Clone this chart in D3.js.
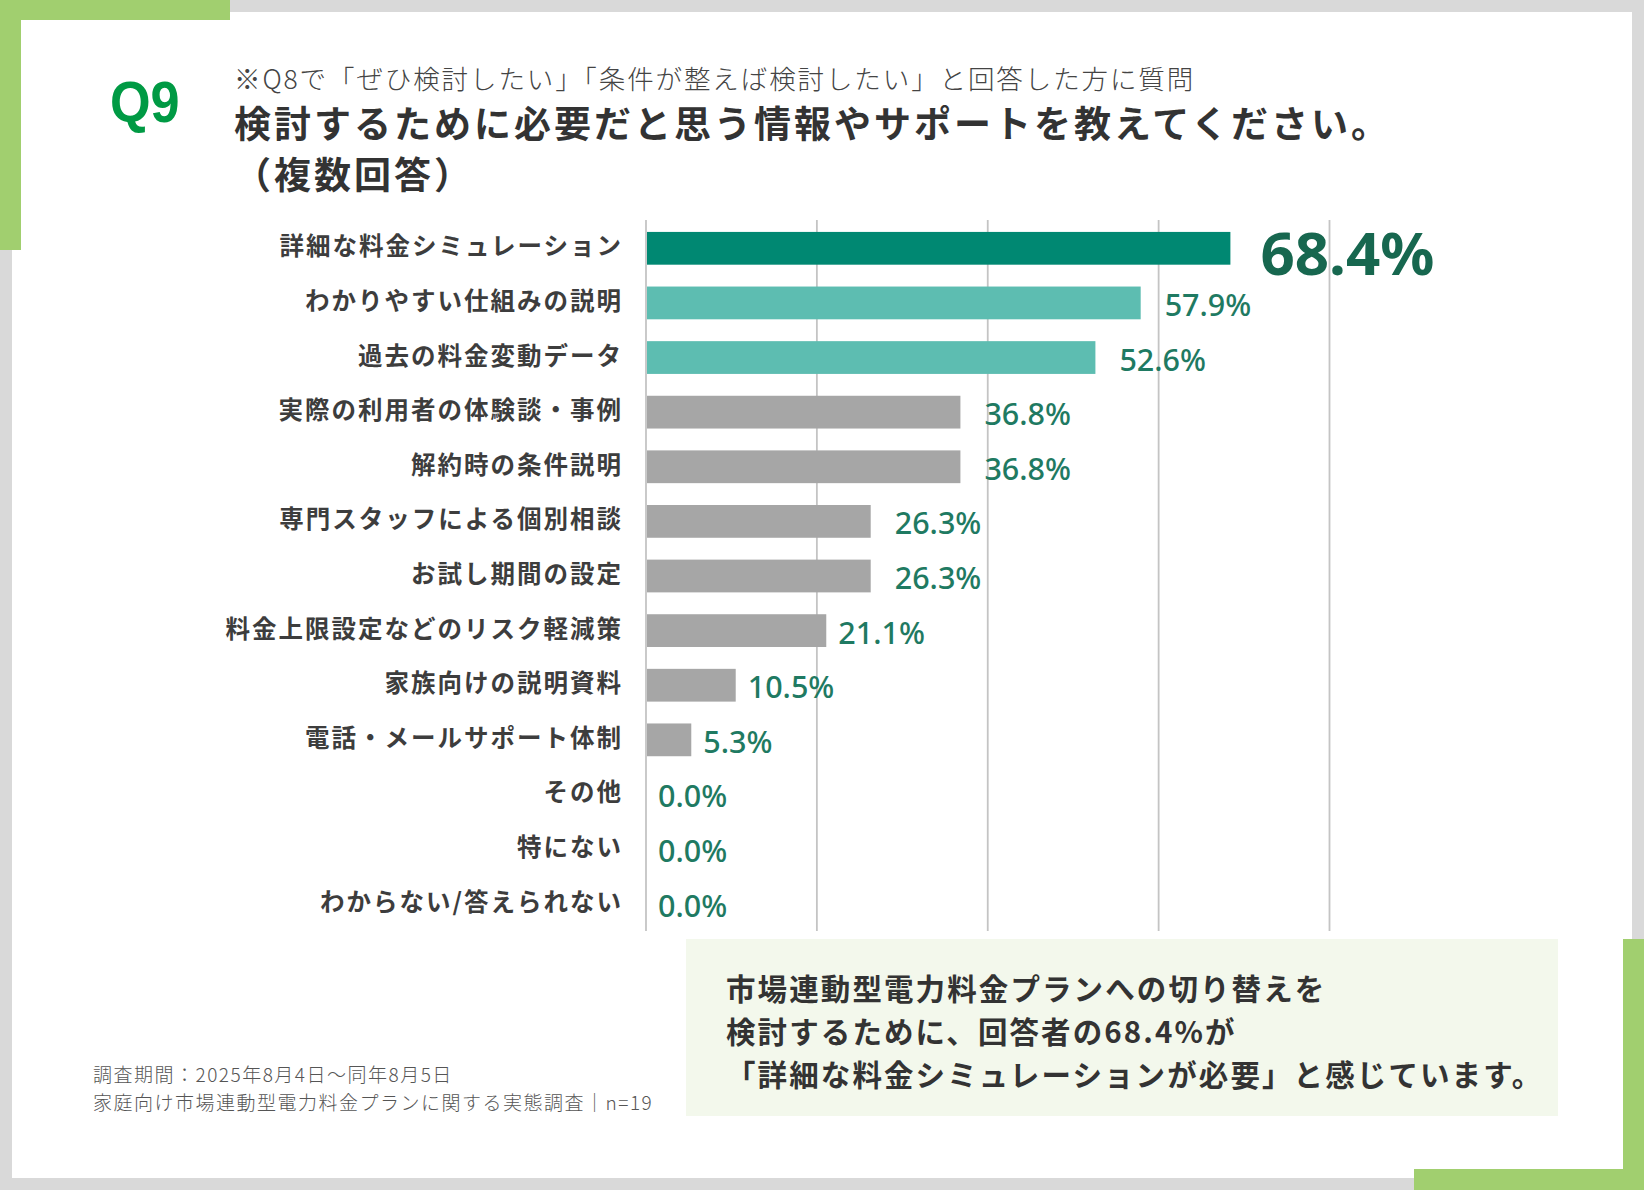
<!DOCTYPE html>
<html>
<head>
    <meta charset="utf-8"/>
    <title>Q9</title>
    <script src="https://cdn.jsdelivr.net/npm/d3@7/dist/d3.min.js"></script>
    <style>
        html, body {
            margin: 0;
            padding: 0;
            background: #fff;
        }
        svg {
            display: block;
        }
        .jp {
            font-family: "Noto Sans CJK JP", "Noto Sans", sans-serif;
        }
        .num {
            font-family: "Noto Sans", "Noto Sans CJK JP", sans-serif;
        }
    </style>
</head>
<body>
<svg id="chart" width="1644" height="1190"></svg>

<script>

    var categories = [
        '詳細な料金シミュレーション',
        'わかりやすい仕組みの説明',
        '過去の料金変動データ',
        '実際の利用者の体験談・事例',
        '解約時の条件説明',
        '専門スタッフによる個別相談',
        'お試し期間の設定',
        '料金上限設定などのリスク軽減策',
        '家族向けの説明資料',
        '電話・メールサポート体制',
        'その他',
        '特にない',
        'わからない/答えられない'
    ];
    var values = [68.4, 57.9, 52.6, 36.8, 36.8, 26.3, 26.3, 21.1, 10.5, 5.3, 0.0, 0.0, 0.0];
    var ticks = [0, 20, 40, 60, 80];

    var qNo = 'Q9';
    var subTitle = '※Q8で「ぜひ検討したい」「条件が整えば検討したい」と回答した方に質問';
    var titleLines = ['検討するために必要だと思う情報やサポートを教えてください。', '（複数回答）'];
    var summaryLines = [
        '市場連動型電力料金プランへの切り替えを',
        '検討するために、回答者の68.4%が',
        '「詳細な料金シミュレーションが必要」と感じています。'
    ];
    var notes = [
        '調査期間：2025年8月4日〜同年8月5日',
        '家庭向け市場連動型電力料金プランに関する実態調査｜n=19'
    ];

    //////////////////////////////////////////////////

    var W = 1644, H = 1190;
    var svg = d3.select('#chart');
    var green = '#a1cf6f';

    // frame
    svg.append('rect').attr('width', W).attr('height', H).attr('fill', '#d9d9d9');
    svg.append('rect').attr('x', 12).attr('y', 12).attr('width', 1620).attr('height', 1166).attr('fill', '#fff');
    svg.append('rect').attr('x', 0).attr('y', 0).attr('width', 230).attr('height', 20).attr('fill', green);
    svg.append('rect').attr('x', 0).attr('y', 0).attr('width', 21).attr('height', 250).attr('fill', green);
    svg.append('rect').attr('x', 1623).attr('y', 939).attr('width', 21).attr('height', 251).attr('fill', green);
    svg.append('rect').attr('x', 1414).attr('y', 1169).attr('width', 230).attr('height', 21).attr('fill', green);

    //////////////////////////////////////////////////
    // heading

    svg.append('text')
            .attr('transform', 'translate(110,122) scale(0.9,1)')
            .style('font-family', '"Liberation Sans", Arial, sans-serif')
            .style('font-weight', 700)
            .style('font-size', '58px')
            .attr('fill', '#009a44')
            .text(qNo);

    svg.append('text')
            .attr('class', 'jp')
            .attr('x', 234).attr('y', 89)
            .style('font-size', '26.5px')
            .style('font-weight', 300)
            .style('letter-spacing', '1.9px')
            .attr('fill', '#444')
            .text(subTitle);

    svg.selectAll('text.title')
            .data(titleLines)
            .enter()
            .append('text')
            .attr('class', 'title jp')
            .attr('x', 234)
            .attr('y', function (d, i) {
                return 138 + i * 51;
            })
            .style('font-size', '37px')
            .style('font-weight', 700)
            .style('letter-spacing', '3px')
            .attr('fill', '#333')
            .text(function (d) {
                return d;
            });

    //////////////////////////////////////////////////
    // scales

    var x = d3.scaleLinear()
            .domain([0, 80])
            .range([646, 1329.5]);

    var y = d3.scaleBand()
            .domain(categories)
            .range([221, 931])
            .paddingInner(0.4)
            .paddingOuter(0.2);

    var rows = categories.map(function (c, i) {
        return {name: c, value: values[i], i: i};
    });

    var barColor = function (d) {
        if (d.i === 0) return '#008872';
        if (d.value >= 50) return '#5dbdb1';
        return '#a6a6a6';
    };

    // grid
    svg.append('g')
            .selectAll('line')
            .data(ticks)
            .enter()
            .append('line')
            .attr('x1', function (d) {
                return x(d);
            })
            .attr('x2', function (d) {
                return x(d);
            })
            .attr('y1', 220)
            .attr('y2', 931)
            .attr('stroke', '#c4c4c4')
            .attr('stroke-width', 1.8);

    // bars
    svg.append('g')
            .selectAll('rect')
            .data(rows)
            .enter()
            .append('rect')
            .attr('x', x(0) + 1)
            .attr('y', function (d) {
                return y(d.name);
            })
            .attr('width', function (d) {
                return Math.max(0, x(d.value) - x(0) - 1);
            })
            .attr('height', y.bandwidth())
            .attr('fill', barColor);

    // category labels
    svg.append('g')
            .selectAll('text')
            .data(rows)
            .enter()
            .append('text')
            .attr('class', 'jp')
            .attr('x', 623)
            .attr('y', function (d) {
                return y(d.name) + y.bandwidth() / 2 + 7;
            })
            .attr('text-anchor', 'end')
            .style('font-size', '24.5px')
            .style('font-weight', 700)
            .style('letter-spacing', '2px')
            .attr('fill', '#3d3d3d')
            .text(function (d) {
                return d.name;
            });

    // value labels
    svg.append('g')
            .selectAll('text')
            .data(rows)
            .enter()
            .append('text')
            .attr('class', 'num')
            .attr('x', function (d) {
                var gap = d.i === 0 ? 30 : (d.value > 25 ? 24 : 12);
                return x(d.value) + gap;
            })
            .attr('y', function (d) {
                var c = y(d.name) + y.bandwidth() / 2;
                return d.i === 0 ? c + 26.5 : c + 13;
            })
            .style('font-size', function (d) {
                return d.i === 0 ? '60px' : '30.5px';
            })
            .style('font-weight', function (d) {
                return d.i === 0 ? 700 : 500;
            })
            .attr('fill', function (d) {
                return d.i === 0 ? '#17674f' : '#1f7a62';
            })
            .text(function (d) {
                return d.value.toFixed(1) + '%';
            });

    //////////////////////////////////////////////////
    // summary box

    svg.append('rect')
            .attr('x', 686).attr('y', 939)
            .attr('width', 872).attr('height', 177)
            .attr('fill', '#f3f8ec');

    svg.selectAll('text.summary')
            .data(summaryLines)
            .enter()
            .append('text')
            .attr('class', 'summary jp')
            .attr('x', 726)
            .attr('y', function (d, i) {
                return 1000 + i * 43;
            })
            .style('font-size', '29.5px')
            .style('font-weight', 700)
            .style('letter-spacing', '2.1px')
            .attr('fill', '#333')
            .text(function (d) {
                return d;
            });

    // notes
    svg.selectAll('text.note')
            .data(notes)
            .enter()
            .append('text')
            .attr('class', 'note jp')
            .attr('x', 93)
            .attr('y', function (d, i) {
                return 1082 + i * 28;
            })
            .style('font-size', '19px')
            .style('font-weight', 300)
            .style('letter-spacing', '1.5px')
            .attr('fill', '#555')
            .text(function (d) {
                return d;
            });

</script>
</body>
</html>
